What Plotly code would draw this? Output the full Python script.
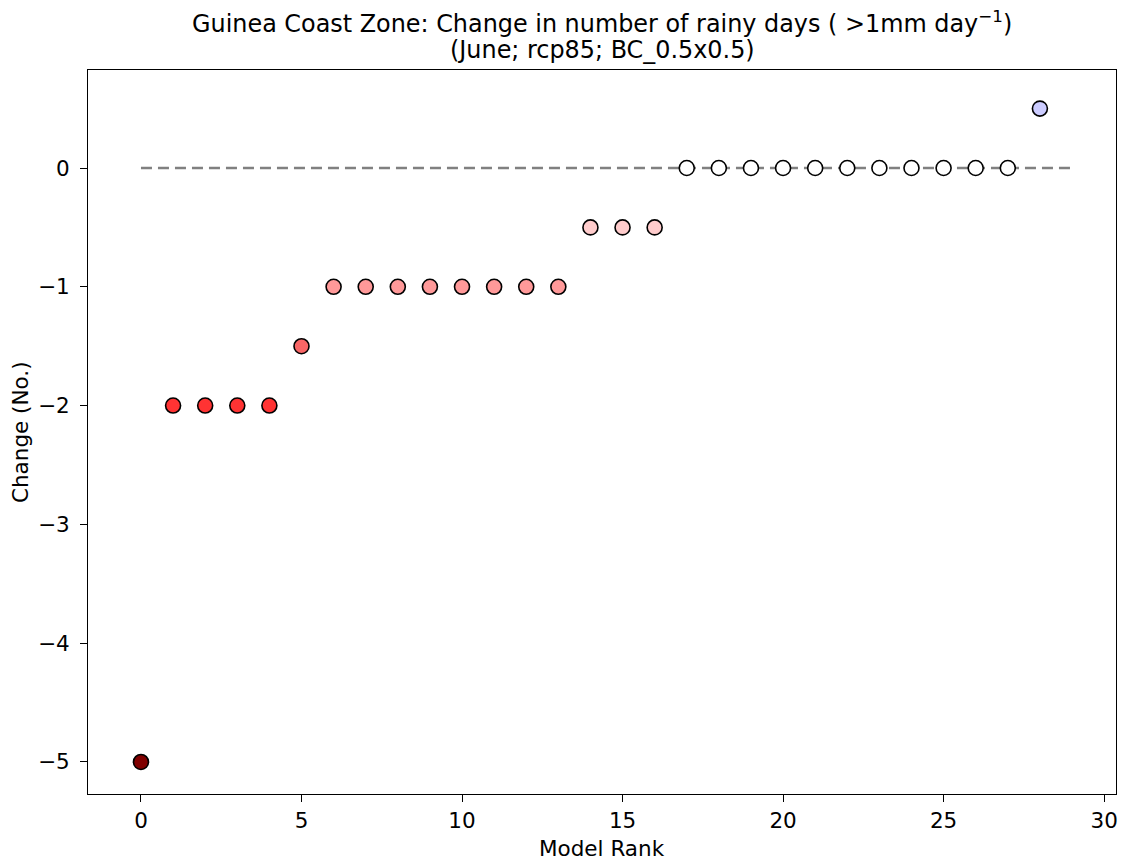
import plotly.graph_objects as go

ranks = list(range(29))
changes = [-5, -2, -2, -2, -2, -1.5, -1, -1, -1, -1, -1, -1, -1, -1,
           -0.5, -0.5, -0.5, 0, 0, 0, 0, 0, 0, 0, 0, 0, 0, 0, 0.5]
color_map = {-5: "#800000", -2: "#ff3333", -1.5: "#f86666", -1: "#ff9999",
             -0.5: "#ffcccc", 0: "#ffffff", 0.5: "#ccccff"}
colors = [color_map[v] for v in changes]
zero_x = [0, 29]
zero_y = [0, 0]
x_ticks = [0, 5, 10, 15, 20, 25, 30]
y_ticks = [-5, -4, -3, -2, -1, 0]
y_ticktext = ["−5", "−4", "−3", "−2", "−1", "0"]

font = "DejaVu Sans, sans-serif"
FS = 21.5
TFS = 23.9
fig = go.Figure()
fig.add_trace(go.Scatter(x=zero_x, y=zero_y, mode="lines",
                         line=dict(color="gray", width=2.5, dash="11px,6px"),
                         showlegend=False, hoverinfo="skip"))
fig.add_trace(go.Scatter(x=ranks, y=changes, mode="markers",
                         marker=dict(size=15, color=colors,
                                     line=dict(color="black", width=1.6)),
                         showlegend=False))

ann = [
    dict(text="Guinea Coast Zone: Change in number of rainy days ( &gt;1mm day<sup>−1</sup>)",
         x=0.5, y=1.0663, xref="paper", yref="paper", xanchor="center", yanchor="middle",
         showarrow=False, font=dict(size=TFS, family=font, color="black")),
    dict(text="(June; rcp85; BC_0.5x0.5)",
         x=0.5, y=1.0276, xref="paper", yref="paper", xanchor="center", yanchor="middle",
         showarrow=False, font=dict(size=TFS, family=font, color="black")),
    dict(text="Model Rank", x=0.5, y=-0.0746, xref="paper", yref="paper",
         xanchor="center", yanchor="middle", showarrow=False,
         font=dict(size=FS, family=font, color="black")),
    dict(text="Change (No.)", x=-0.0661, y=0.5, xref="paper", yref="paper",
         xanchor="center", yanchor="middle", textangle=-90, showarrow=False,
         font=dict(size=FS, family=font, color="black")),
]

fig.update_layout(
    width=1121, height=861,
    margin=dict(l=88, r=5, t=70, b=67, autoexpand=False),
    paper_bgcolor="white", plot_bgcolor="white",
    font=dict(family=font, size=FS, color="black"),
    annotations=ann,
    xaxis=dict(range=[-1.65, 30.37], tickvals=x_ticks, automargin=False,
               showgrid=False, zeroline=False, showline=True, mirror=True,
               linecolor="black", linewidth=1.2, ticks="outside", ticklen=7,
               tickwidth=1.2, tickcolor="black", tickfont=dict(size=FS)),
    yaxis=dict(range=[-5.27, 0.825], tickvals=y_ticks, ticktext=y_ticktext,
               automargin=False, ticklabelstandoff=6,
               showgrid=False, zeroline=False, showline=True, mirror=True,
               linecolor="black", linewidth=1.2, ticks="outside", ticklen=7,
               tickwidth=1.2, tickcolor="black", tickfont=dict(size=FS)),
)
fig.write_html("out.html", config={"displayModeBar": False},
               post_script="document.body.style.margin='0';document.body.style.overflow='hidden';")
